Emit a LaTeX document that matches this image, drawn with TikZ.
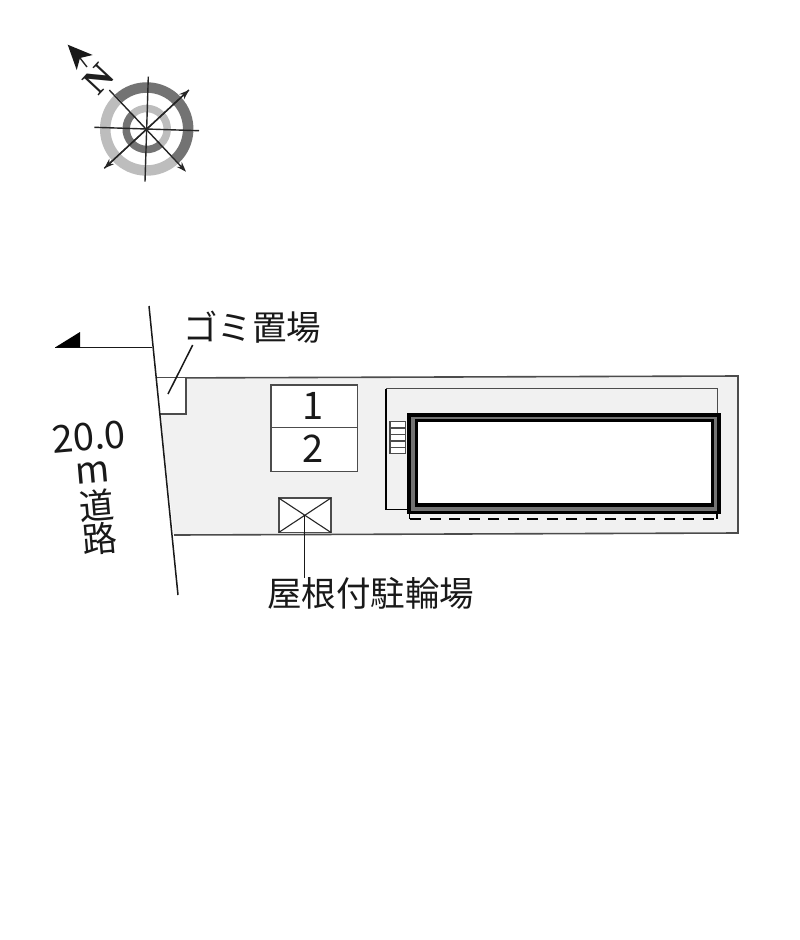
\documentclass[tikz,border=0pt]{standalone}
\usepackage{fontspec}
\setmainfont{Noto Sans CJK JP}
\newfontfamily\serifbold{Liberation Serif}[BoldFont={Liberation Serif Bold}]
\usetikzlibrary{arrows.meta}
\definecolor{lotfill}{gray}{0.945}
\definecolor{edgegray}{gray}{0.3}
\definecolor{ringdark}{gray}{0.45}
\definecolor{ringlight}{gray}{0.74}
\definecolor{wallgray}{gray}{0.45}
\tikzset{
  ink/.style={draw=black!90,line width=1.5pt},
  edge/.style={draw=edgegray,line width=1.6pt},
  label/.style={inner sep=0pt,font=\fontsize{34.5}{34.5}\selectfont,text=black!90,text height=27.6pt,text depth=0pt},
  roadnum/.style={inner sep=0pt,font=\fontsize{38}{38}\selectfont,rotate=5,text=black!90,text height=27pt,text depth=0pt},
  roadlabel/.style={inner sep=0pt,font=\fontsize{35}{35}\selectfont,rotate=5,text=black!90,text height=28pt,text depth=0pt},
  roadunit/.style={inner sep=0pt,font=\fontsize{37}{37}\selectfont,rotate=5,text=black!90,text height=20pt,text depth=0pt},
  digit/.style={inner sep=0pt,font=\fontsize{38}{38}\selectfont,text=black!90,text height=27pt,text depth=0pt},
  needle/.style={draw=black!85,line width=1.4pt},
  needlearrow/.style={needle,-{Stealth[length=10pt,width=7pt]}},
}
\begin{document}
\begin{tikzpicture}[x=1pt,y=-1pt]
\useasboundingbox (0,0) rectangle (800,940);
\fill[white] (0,0) rectangle (800,940);

% compass rings
\begin{scope}[shift={(146.7,129)},x=1pt,y=1pt]
  \draw[ringdark,line width=10.5pt] (133:41.5) arc[start angle=133,end angle=-47,radius=41.5];
  \draw[ringlight,line width=10.5pt] (-47:41.5) arc[start angle=-47,end angle=-227,radius=41.5];
  \draw[ringlight,line width=7.5pt] (133:20.5) arc[start angle=133,end angle=-47,radius=20.5];
  \draw[ringdark,line width=7.5pt] (-47:20.5) arc[start angle=-47,end angle=-227,radius=20.5];
\end{scope}
\coordinate (cn) at (148.3,76.7);
\coordinate (cs) at (145,181.7);
\coordinate (cw) at (94.3,127.3);
\coordinate (ce) at (199,130.7);
\coordinate (cnw) at (109.3,90);
\coordinate (cse) at (186,171.7);
\coordinate (csw) at (104.3,168.3);
\coordinate (cne) at (189,90);
\draw[needle] (cn) -- (cs);
\draw[needle] (cw) -- (ce);
\draw[needlearrow] (cnw) -- (cse);
\draw[needlearrow] (cne) -- (csw);
\draw[needlearrow] (csw) -- (cne);
% north arrow
\coordinate (ntip) at (67.7,44.7);
\coordinate (nbarbA) at (92.7,55);
\coordinate (nbarbB) at (76.7,70);
\coordinate (nnotch) at (80,58);
\coordinate (ntail) at (87,67);
\fill[black!90] (ntip) -- (nbarbA) -- (nnotch) -- (nbarbB) -- cycle;
\draw[needle] (nnotch) -- (ntail);
\node[inner sep=0pt,rotate=47,text=black!88,font=\serifbold\bfseries\fontsize{36}{36}\selectfont] (north) at (99,79) {N};

% lot
\fill[lotfill] (156,378) -- (738,376) -- (738,533) -- (174,535) -- cycle;
\draw[edge] (156,378) -- (738,376) -- (738,533) -- (174,535);

% garbage area
\fill[white] (156,378) -- (186,378) -- (186,414) -- (159.8,414) -- cycle;
\draw[edge] (186,378) -- (186,414) -- (159.8,414);
\node[label,anchor=center] (gomi) at (252,327) {ゴミ置場};
\coordinate (gomiA) at (192.7,345);
\coordinate (gomiB) at (168,394);
\draw[ink] (gomiA) -- (gomiB);

% road
\coordinate (roadN) at (149,306);
\coordinate (roadS) at (178,595);
\draw[ink] (roadN) -- (roadS);
\coordinate (roadarrowA) at (152,347.5);
\coordinate (roadarrowB) at (55,347.5);
\draw[ink] (roadarrowA) -- (roadarrowB);
\fill[black] (roadarrowB) -- (80,332) -- (80,347.5) -- cycle;
\node[roadnum] (rw) at (89,437) {20.0};
\node[roadunit] (rm) at (92.7,473) {m};
\node[roadlabel] (rd) at (96.7,505) {道};
\node[roadlabel] (rr) at (100,538) {路};

% parking
\draw[edge,fill=white] (270.7,384.7) rectangle (357.3,471.3);
\draw[draw=edgegray,line width=1.3pt] (270.7,427.3) -- (357.3,427.3);
\node[digit] (p1) at (313.5,406) {1};
\node[digit] (p2) at (313.5,449) {2};

% bike shelter
\draw[edge,fill=white] (278.7,498) rectangle (331,532.5);
\draw[draw=black!85,line width=1.1pt] (278.7,498) -- (331,532.5) (331,498) -- (278.7,532.5);
\node[label,anchor=center] (bike) at (370.5,593) {屋根付駐輪場};
\coordinate (bikeA) at (304.5,515);
\coordinate (bikeB) at (304.5,578);
\draw[ink] (bikeA) -- (bikeB);

% building surroundings
\draw[edge] (386,388.5) -- (717.3,388.5) -- (717.3,413);
\draw[black,line width=1.4pt] (386,509.5) -- (386,388.5);
\draw[black,line width=1.4pt] (386,509.5) -- (408,509.5);
% stairs
\draw[draw=edgegray,fill=white,line width=1.3pt] (390,421.7) rectangle (405.7,453.3);
\foreach \yy in {428,434.5,441,447.3}
  \draw[draw=edgegray,line width=1.5pt] (390,\yy) -- (405.7,\yy);
% building
\fill[wallgray] (409,415) rectangle (719,512.5);
\draw[black,line width=3.4pt] (409,415) rectangle (719,512.5);
\draw[black,line width=3.4pt,fill=white] (416.6,420.6) rectangle (712.4,505);
% dashed
\draw[black,line width=1.4pt,dash pattern=on 11pt off 8.5pt] (410,519) -- (717,519);
\draw[black,line width=1.4pt] (409.5,513) -- (409.5,519) (717,513) -- (717,519);
\end{tikzpicture}
\end{document}
